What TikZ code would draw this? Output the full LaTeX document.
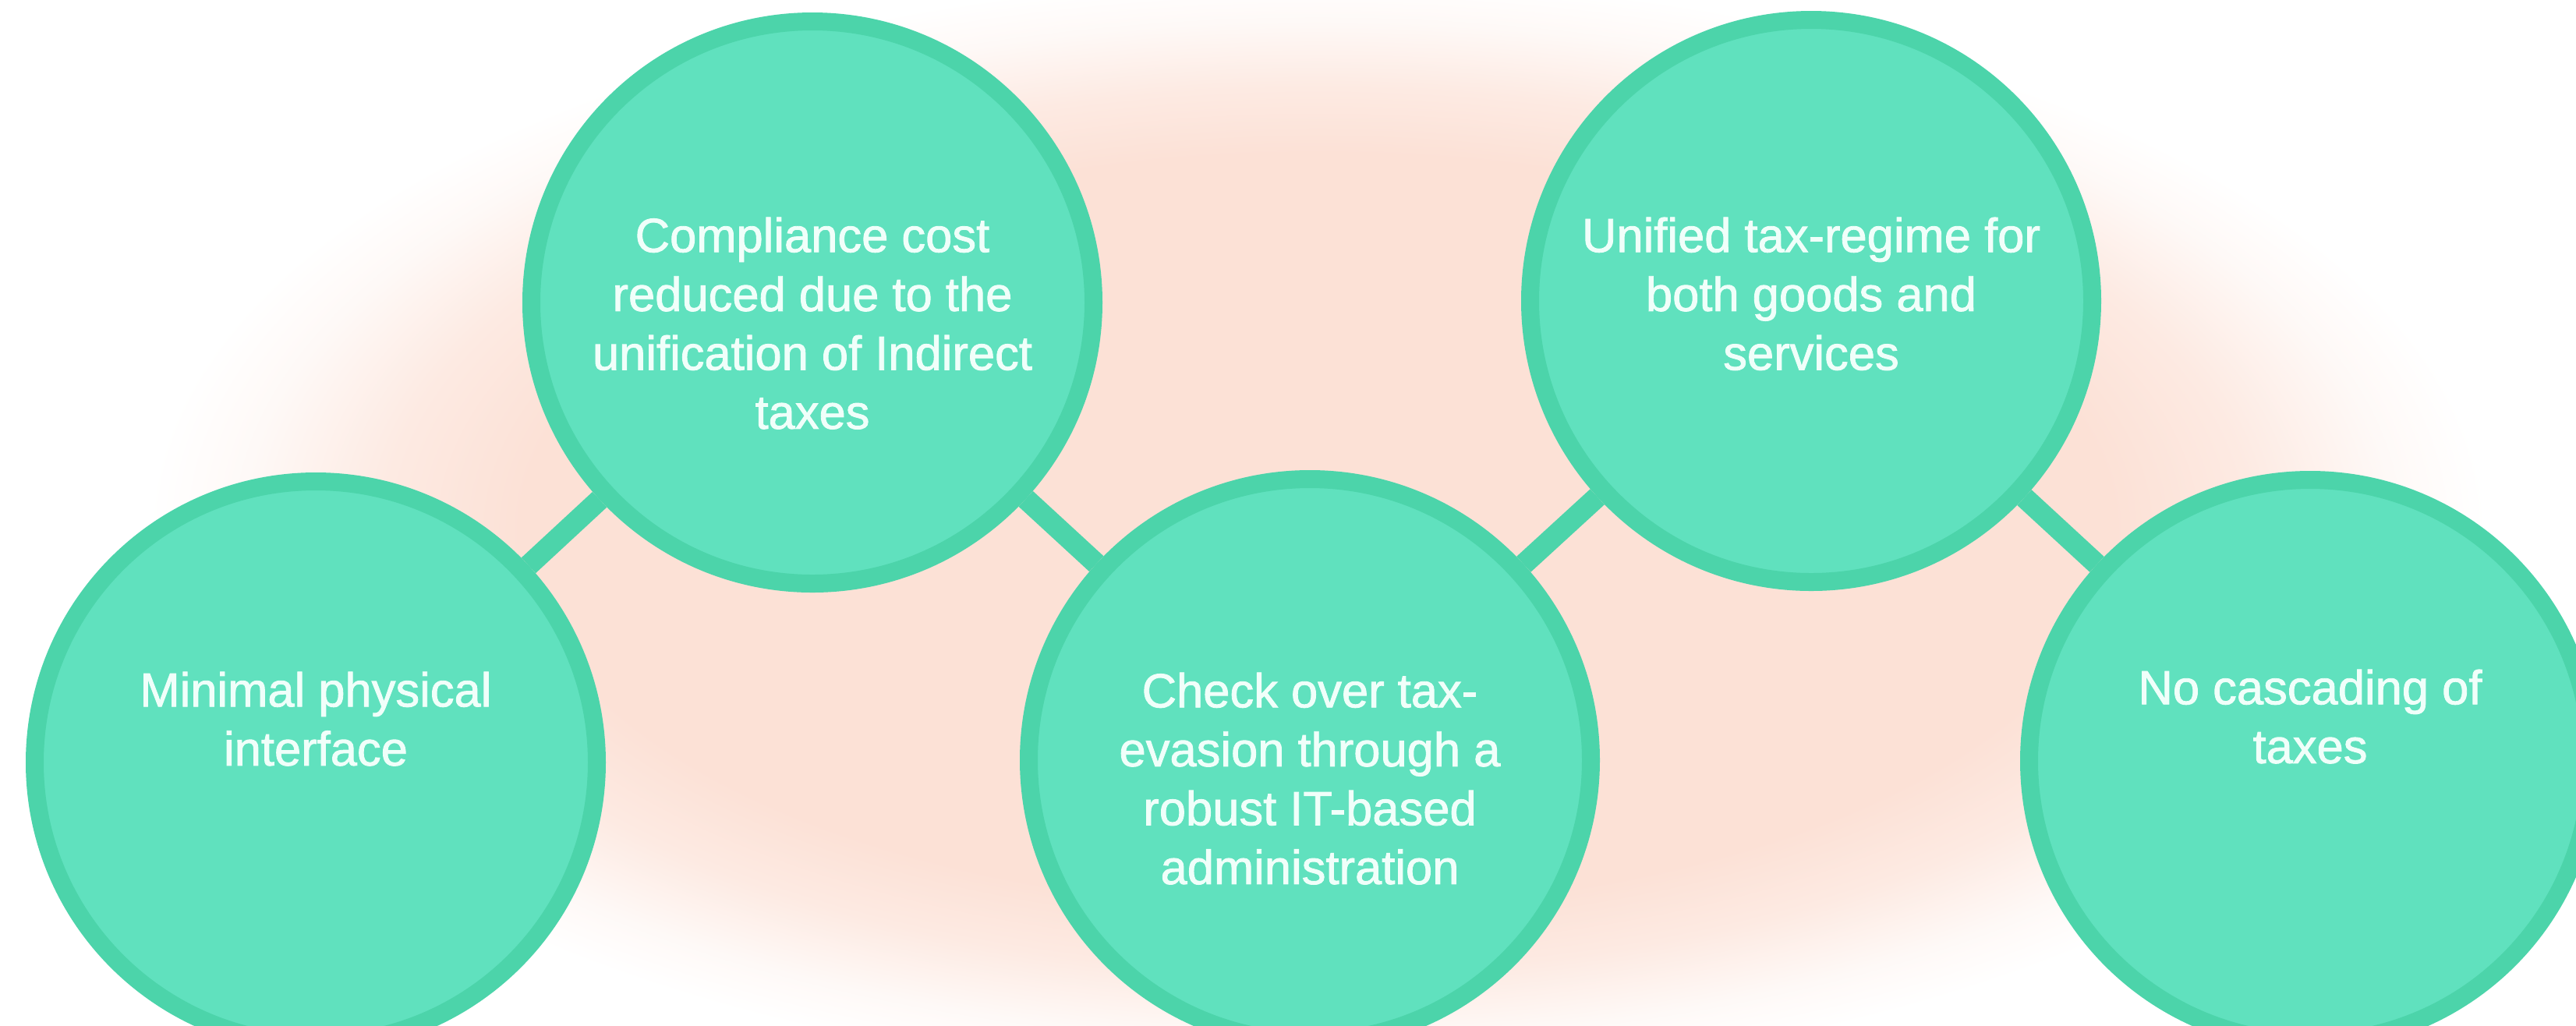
\documentclass[tikz,border=0pt]{standalone}
\usepackage{fontspec}
\setmainfont{Liberation Sans}[FakeBold=1.4]
\usepackage{xcolor}
\definecolor{mintfill}{RGB}{96,225,190}
\definecolor{mintline}{RGB}{76,212,170}
\definecolor{mintwhite}{RGB}{240,255,250}
\definecolor{blush}{RGB}{252,225,214}
\pgfdeclareradialshading{blushglow}{\pgfpoint{0bp}{0bp}}{%
	color(0bp)=(blush); color(17bp)=(blush); color(20bp)=(blush!70!white);
	color(23bp)=(blush!20!white); color(25bp)=(white); color(50bp)=(white)}

\begin{document}
\begin{tikzpicture}[%
	bubble/.style={circle,draw=mintline,fill=mintfill,line width=2.3mm,minimum size=7.21cm,inner sep=0pt},
	btext/.style={anchor=north,inner sep=0pt,align=center,text=mintwhite,font=\fontsize{17.5}{21.5}\selectfont},
	link/.style={draw=mintline,line width=2.7mm}]
\useasboundingbox (0,0) rectangle (33.04,-13.15);
\clip (0,0) rectangle (33.04,-13.15);
\fill[white] (0,0) rectangle (33.04,-13.15);
\shade[shading=blushglow] (16.9,-6.8) ellipse (15.0 and 7.1);

\node[bubble] (minimal) at (4.05,-9.78) {};
\node[bubble] (compliance) at (10.42,-3.88) {};
\node[bubble] (check) at (16.8,-9.75) {};
\node[bubble] (unified) at (23.23,-3.86) {};
\node[bubble] (cascade) at (29.63,-9.76) {};

\draw[link] (minimal) -- (compliance);
\draw[link] (compliance) -- (check);
\draw[link] (check) -- (unified);
\draw[link] (unified) -- (cascade);

\node[btext] (minimaltxt) at ([yshift=1.17cm]minimal.center) {Minimal physical\\interface};
\node[btext] (compliancetxt) at ([yshift=1.1cm]compliance.center) {Compliance cost\\reduced due to the\\unification of Indirect\\taxes};
\node[btext] (checktxt) at ([yshift=1.13cm]check.center) {Check over tax-\\evasion through a\\robust IT-based\\administration};
\node[btext] (unifiedtxt) at ([yshift=1.08cm]unified.center) {Unified tax-regime for\\both goods and\\services};
\node[btext] (cascadetxt) at ([yshift=1.18cm]cascade.center) {No cascading of\\taxes};
\end{tikzpicture}
\end{document}
